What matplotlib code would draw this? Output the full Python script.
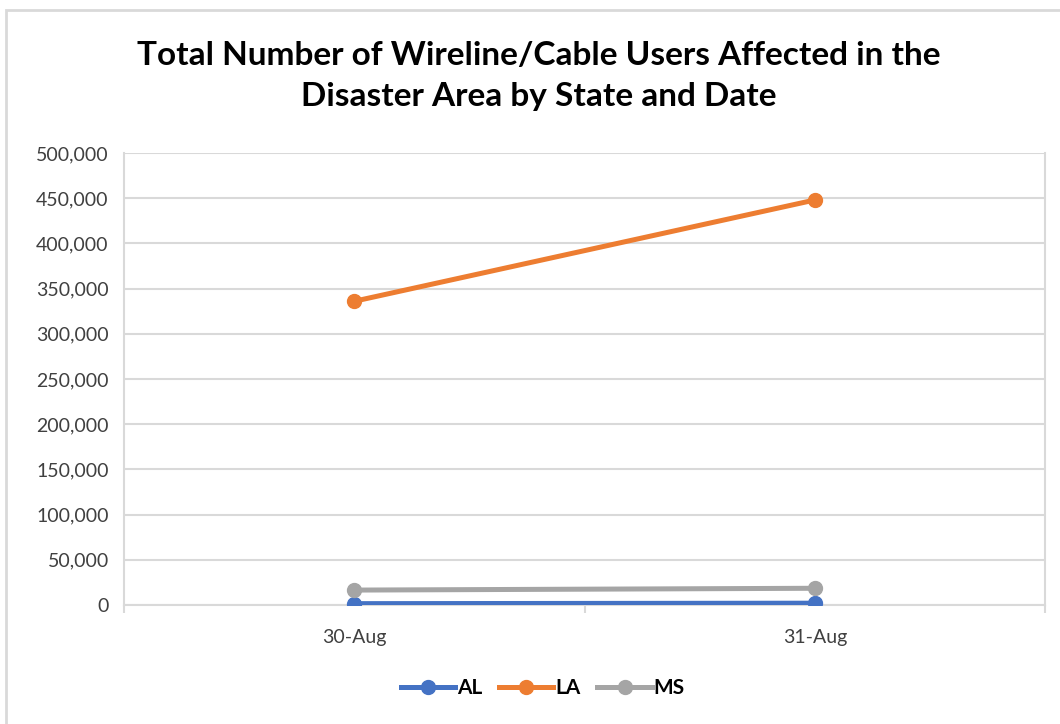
import matplotlib
matplotlib.use("Agg")
import matplotlib.pyplot as plt
from matplotlib.patches import Rectangle
from matplotlib.ticker import FuncFormatter

dates = ["30-Aug", "31-Aug"]
al = [1500, 2000]
la = [336000, 448000]
ms = [16500, 18500]

plt.rcParams['font.family'] = ['Lato', 'DejaVu Sans']

fig = plt.figure(figsize=(10.6, 7.24), dpi=100)

# outer chart frame (cropped at right and bottom)
fig.patches.append(Rectangle((6 / 1060, -0.1), 1.2, (724 - 10) / 724 + 0.1,
                             transform=fig.transFigure, fill=False,
                             edgecolor="#d9d9d9", linewidth=2))

ax = fig.add_axes([124 / 1060, (724 - 605) / 724, (1045 - 124) / 1060, 452 / 724])

x = range(len(dates))
ax.plot(x, al, color="#4472C4", marker="o", markersize=10, linewidth=3.6, label="AL", zorder=3)
ax.plot(x, la, color="#ED7D31", marker="o", markersize=10, linewidth=3.6, label="LA", zorder=3)
ax.plot(x, ms, color="#A5A5A5", marker="o", markersize=10, linewidth=3.6, label="MS", zorder=3)

ax.set_xlim(-0.5, 1.5)
ax.set_ylim(0, 500000)
ax.set_yticks(range(0, 500001, 50000))
ax.yaxis.set_major_formatter(FuncFormatter(lambda v, p: f"{int(v):,}"))
ax.grid(axis="y", color="#d9d9d9", linewidth=1.5)
ax.set_axisbelow(True)

ax.set_xticks([0, 1])
ax.set_xticklabels(dates)
ax.set_xticks([-0.5, 0.5, 1.5], minor=True)
ax.tick_params(axis="x", which="major", length=0, pad=17, labelsize=14, labelcolor="#404040")
ax.tick_params(axis="x", which="minor", length=6, width=1.5, color="#d9d9d9")
ax.tick_params(axis="y", length=0, pad=11, labelsize=14, labelcolor="#404040")

ax.spines["top"].set_visible(False)
for s in ["left", "right", "bottom"]:
    ax.spines[s].set_color("#d9d9d9")
    ax.spines[s].set_linewidth(1.5)

fig.text(0.508, (724 - 76) / 724,
         "Total Number of Wireline/Cable Users Affected in the\nDisaster Area by State and Date",
         ha="center", va="center", fontsize=24, fontweight="bold", linespacing=1.5)

fig.legend(*ax.get_legend_handles_labels(), loc="center",
           bbox_to_anchor=(543 / 1060, (724 - 688) / 724), ncol=3, frameon=False,
           prop={"weight": "bold", "size": 15}, handlelength=2.6, columnspacing=0.8,
           handletextpad=0.1)

fig.savefig("out.png", dpi=100, facecolor="white")
